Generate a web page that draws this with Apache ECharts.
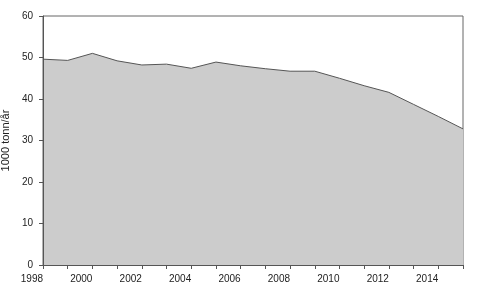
<!DOCTYPE html>
<html>
<head>
<meta charset="utf-8">
<script src="https://cdn.jsdelivr.net/npm/echarts@6/dist/echarts.min.js"></script>
<style>html,body{margin:0;padding:0;background:#fff}#c{width:482px;height:296px}</style>
</head>
<body>
<div id="c"></div>
<script>
var years = [1998,1999,2000,2001,2002,2003,2004,2005,2006,2007,2008,2009,2010,2011,2012,2013,2014,2015];
var values = [49.6,49.3,51.0,49.2,48.2,48.4,47.4,48.9,48.0,47.3,46.7,46.7,45.0,43.2,41.6,38.7,35.8,32.8];
var yTicks = [0,10,20,30,40,50,60];
var yName = '1000 tonn/år';

var chart = echarts.init(document.getElementById('c'), null, {renderer:'canvas'});
var font = 'Liberation Sans, Arial, sans-serif';
chart.setOption({
  animation: false,
  grid: {left: 43, top: 16, right: 19, bottom: 31, show: true, borderColor: '#666', borderWidth: 1, backgroundColor: 'transparent', containLabel: false, outerBoundsMode: 'none'},
  xAxis: {
    type: 'value', min: 1998, max: 2015, interval: 1, z: 5,
    axisLine: {show: true, lineStyle: {color: '#555', width: 1}},
    axisTick: {show: true, length: 4, lineStyle: {color: '#555'}},
    splitLine: {show: false},
    axisLabel: {
      color: '#222', fontSize: 10, fontFamily: font, align: 'right', margin: 9,
      formatter: function(v){ return (v % 2 === 0 && v < 2015) ? String(v) : ''; }
    }
  },
  yAxis: {
    type: 'value', min: yTicks[0], max: yTicks[yTicks.length-1], interval: 10, z: 5,
    name: yName, nameLocation: 'middle', nameGap: 24, nameRotate: 90,
    nameTextStyle: {color: '#222', fontSize: 11, fontFamily: font},
    axisLine: {show: true, lineStyle: {color: '#555', width: 1}},
    axisTick: {show: true, length: 4, lineStyle: {color: '#555'}},
    splitLine: {show: false},
    axisLabel: {color: '#222', fontSize: 10, fontFamily: font, margin: 10}
  },
  series: [{
    type: 'line',
    data: years.map(function(y, i){ return [y, values[i]]; }),
    showSymbol: false,
    lineStyle: {color: '#555', width: 1},
    areaStyle: {color: '#cccccc', opacity: 1},
    z: 1
  }]
});
</script>
</body>
</html>
